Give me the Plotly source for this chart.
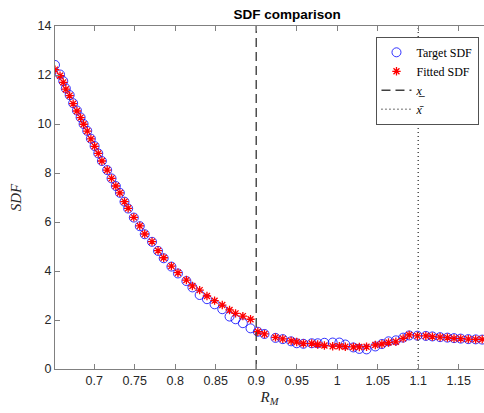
import plotly.graph_objects as go

# ---- data ----
r_m = [0.6516, 0.6578, 0.6618, 0.665, 0.6697, 0.674, 0.6787, 0.6832, 0.6869, 0.6914,
       0.6959, 0.7005, 0.705, 0.7095, 0.716, 0.7214, 0.7267, 0.7317, 0.7374, 0.7419,
       0.7489, 0.7563, 0.7624, 0.7714, 0.7788, 0.7858, 0.7953, 0.8034, 0.8138, 0.8212,
       0.8302, 0.8392, 0.8486, 0.8581, 0.8671, 0.8745, 0.8835, 0.893, 0.902, 0.9102,
       0.9238, 0.9328, 0.9431, 0.95, 0.9583, 0.9685, 0.9759, 0.9842, 0.9944, 1.0026,
       1.01, 1.0199, 1.0273, 1.0362, 1.047, 1.0552, 1.0633, 1.0724, 1.0814, 1.0888,
       1.099, 1.1094, 1.1175, 1.127, 1.136, 1.1442, 1.1525, 1.1618, 1.1709, 1.179]

target_sdf = [12.41, 12.02, 11.75, 11.45, 11.18, 10.85, 10.55, 10.27, 10.00, 9.72,
              9.40, 9.10, 8.80, 8.49, 8.12, 7.78, 7.47, 7.19, 6.83, 6.55,
              6.18, 5.83, 5.50, 5.19, 4.82, 4.52, 4.18, 3.90, 3.59, 3.33,
              3.02, 2.85, 2.64, 2.44, 2.14, 2.03, 1.87, 1.66, 1.52, 1.43,
              1.27, 1.22, 1.13, 1.05, 1.03, 1.05, 1.05, 1.07, 1.08, 1.08,
              1.00, 0.88, 0.82, 0.80, 0.92, 1.02, 1.13, 1.17, 1.28, 1.37,
              1.36, 1.35, 1.33, 1.30, 1.28, 1.26, 1.24, 1.22, 1.21, 1.20]

fitted_sdf = [12.22, 11.97, 11.70, 11.42, 11.16, 10.83, 10.53, 10.26, 9.99, 9.71,
              9.39, 9.09, 8.80, 8.49, 8.12, 7.78, 7.47, 7.19, 6.83, 6.56,
              6.19, 5.84, 5.51, 5.20, 4.83, 4.54, 4.20, 3.93, 3.63, 3.39,
              3.22, 2.98, 2.79, 2.61, 2.41, 2.27, 2.16, 2.03, 1.52, 1.43,
              1.29, 1.23, 1.15, 1.10, 1.04, 1.04, 1.00, 0.96, 0.93, 0.93,
              0.91, 0.90, 0.90, 0.91, 0.98, 1.02, 1.08, 1.11, 1.25, 1.39,
              1.35, 1.35, 1.32, 1.30, 1.28, 1.25, 1.24, 1.22, 1.21, 1.21]

x_lower = 0.9
x_upper = 1.1
y_limits = [0, 14]
x_ticks = [0.7, 0.75, 0.8, 0.85, 0.9, 0.95, 1.0, 1.05, 1.1, 1.15]
x_tick_labels = ["0.7", "0.75", "0.8", "0.85", "0.9", "0.95", "1", "1.05", "1.1", "1.15"]
y_ticks = [0, 2, 4, 6, 8, 10, 12, 14]

serif = "Liberation Serif, DejaVu Serif, serif"
sans = "Liberation Sans, Arial, sans-serif"

fig = go.Figure()
fig.add_trace(go.Scatter(
    x=r_m, y=target_sdf, mode="markers", name="Target SDF",
    marker=dict(symbol="circle-open", size=9, color="#0000ff", line=dict(width=0.8, color="#0000ff")),
))
fig.add_trace(go.Scatter(
    x=r_m, y=fitted_sdf, mode="markers", name="Fitted SDF",
    marker=dict(symbol="asterisk-open", size=7, color="#ff0000", line=dict(width=1.3, color="#ff0000")),
))
fig.add_trace(go.Scatter(
    x=[x_lower, x_lower], y=y_limits, mode="lines", name="<i>x</i>\u0332",
    line=dict(color="#404040", width=1.4, dash="9px,5px"),
))
fig.add_trace(go.Scatter(
    x=[x_upper, x_upper], y=y_limits, mode="lines", name="<i>x</i>\u0304",
    line=dict(color="#404040", width=1.4, dash="1px,3px"),
))

axis_common = dict(
    showgrid=False, zeroline=False, showline=True, linecolor="#808080", linewidth=1.3,
    ticks="inside", ticklen=5, tickcolor="#808080", tickwidth=1,
    tickfont=dict(family=sans, size=12.5, color="#262626"),
)

fig.update_layout(
    width=484, height=413,
    margin=dict(l=55, r=0, t=26, b=44),
    paper_bgcolor="white", plot_bgcolor="white",
    title=dict(text="<b>SDF comparison</b>", x=262 / 484, xanchor="center", xref="paper",
               y=1 - 14 / 413, yanchor="middle", yref="container",
               font=dict(family=sans, size=13.5, color="black")),
    xaxis=dict(range=[0.6516, 1.1812], tickvals=x_ticks, ticktext=x_tick_labels, mirror="ticks",
               title=dict(text="<i>R</i><sub><i>M</i></sub>", font=dict(family=serif, size=15, color="#262626"),
                          standoff=4),
               **axis_common),
    yaxis=dict(range=y_limits, tickvals=y_ticks, mirror=False,
               title=dict(text="<i>SDF</i>", font=dict(family=serif, size=15, color="#262626"),
                          standoff=12),
               **axis_common),
    legend=dict(x=478 / 484, xanchor="right", xref="paper", y=1 - 11 / 343, yanchor="top",
                bgcolor="white", bordercolor="#262626", borderwidth=0.8,
                font=dict(family=serif, size=12, color="black"),
                tracegroupgap=0, itemwidth=30),
    showlegend=True,
)

fig.write_html("out.html")
